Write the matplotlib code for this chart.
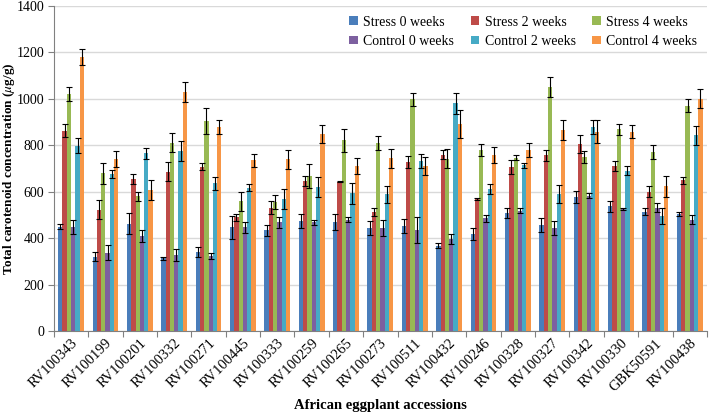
import numpy as np
import matplotlib
matplotlib.use("Agg")
from matplotlib import pyplot as plt

plt.rcParams['font.family'] = ['Liberation Serif', 'DejaVu Serif']
plt.rcParams['mathtext.fontset'] = 'stix'

# datos
accesiones = ['RV100343', 'RV100199', 'RV100201', 'RV100332', 'RV100271', 'RV100445',
              'RV100333', 'RV100259', 'RV100265', 'RV100273', 'RV100511', 'RV100432',
              'RV100246', 'RV100328', 'RV100327', 'RV100342', 'RV100330', 'GBK50591',
              'RV100438']

stress_0 = [450, 320, 463, 313, 339, 446, 433, 475, 468, 445, 453, 367, 417, 508, 458, 576, 537, 513, 504]
stress_2 = [862, 523, 655, 686, 707, 489, 531, 645, 643, 512, 727, 760, 568, 705, 756, 806, 710, 600, 649]
stress_4 = [1020, 680, 580, 811, 905, 558, 555, 668, 822, 808, 998, 742, 780, 746, 1050, 750, 868, 772, 971]
control_0 = [447, 338, 410, 327, 324, 446, 468, 468, 480, 445, 436, 396, 486, 518, 444, 583, 526, 531, 480]
control_2 = [797, 675, 765, 775, 636, 618, 568, 620, 593, 588, 732, 980, 611, 714, 590, 878, 690, 494, 842]
control_4 = [1180, 742, 607, 1029, 877, 735, 739, 849, 711, 744, 711, 892, 757, 781, 865, 859, 859, 623, 1001]

stress_0_err = [12, 20, 45, 5, 22, 48, 22, 30, 35, 30, 30, 10, 25, 20, 30, 25, 25, 15, 8]
stress_2_err = [28, 40, 22, 40, 15, 15, 27, 22, 3, 18, 25, 20, 3, 30, 25, 40, 22, 25, 15]
stress_4_err = [29, 45, 20, 42, 57, 40, 30, 52, 50, 30, 28, 40, 25, 10, 42, 25, 25, 30, 28]
control_0_err = [30, 33, 25, 25, 12, 25, 25, 10, 12, 35, 55, 20, 15, 10, 30, 10, 3, 20, 20]
control_2_err = [32, 18, 23, 42, 28, 15, 42, 45, 45, 35, 32, 45, 20, 10, 40, 30, 20, 35, 40]
control_4_err = [33, 35, 42, 42, 30, 28, 42, 38, 35, 40, 40, 60, 35, 30, 42, 50, 30, 45, 40]

nombres = ['Stress 0 weeks', 'Stress 2 weeks', 'Stress 4 weeks',
           'Control 0 weeks', 'Control 2 weeks', 'Control 4 weeks']
series = [stress_0, stress_2, stress_4, control_0, control_2, control_4]
errores = [stress_0_err, stress_2_err, stress_4_err, control_0_err, control_2_err, control_4_err]
colores = ['#4a7ebb', '#be4b48', '#98b954', '#7d60a0', '#46aac5', '#f79646']

fig = plt.figure(figsize=(7.09, 4.18), dpi=100)
ax = fig.add_axes([0.076, 0.208, 0.921, 0.778])

x = np.arange(len(accesiones))
ancho = 0.125
barras = []
for i in range(len(series)):
    pos = x - 0.3125 + i * ancho
    b = ax.bar(pos, series[i], ancho, color=colores[i], label=nombres[i], zorder=2)
    ax.errorbar(pos, series[i], yerr=errores[i], fmt='none', ecolor='black',
                elinewidth=0.8, capsize=2.3, capthick=0.8, zorder=3)
    barras.append(b)

ax.set_xlim(-0.5, len(accesiones) - 0.5)
ax.set_ylim(0, 1400)
ax.set_yticks(range(0, 1401, 200))
ax.yaxis.grid(True, color='#d9d9d9', linewidth=1, zorder=0)
ax.set_axisbelow(True)

# ticks en los bordes de cada grupo, etiquetas en el centro
ax.set_xticks(np.arange(-0.5, len(accesiones), 1))
ax.set_xticklabels([])
ax.set_xticks(x, minor=True)
ax.set_xticklabels(accesiones, minor=True, rotation=45, ha='right',
                   rotation_mode='anchor', fontsize=10.5)
ax.tick_params(axis='x', which='minor', length=0, pad=4)
ax.tick_params(axis='x', which='major', length=4, color='#808080')
ax.tick_params(axis='y', length=4, color='#808080', labelsize=10, pad=3)

for s in ['top', 'right']:
    ax.spines[s].set_visible(False)
ax.spines['left'].set_color('#808080')
ax.spines['bottom'].set_color('#808080')

ax.set_ylabel('Total carotenoid concentration ($\\mu$g/g)', fontsize=9.5,
              fontweight='bold')
ax.yaxis.set_label_coords(-0.056, 0.5)
ax.set_xlabel('African eggplant accessions', fontsize=10.5, fontweight='bold', labelpad=4)

# orden de la leyenda: fila de stress arriba, control abajo
orden = [0, 3, 1, 4, 2, 5]
ax.legend([barras[k] for k in orden], [nombres[k] for k in orden], ncol=3,
          loc='upper right', bbox_to_anchor=(1.0, 1.0), frameon=False,
          fontsize=10, handlelength=0.6, handleheight=0.6, handletextpad=0.4,
          columnspacing=1.2, labelspacing=0.45, borderaxespad=0.3)

fig.savefig('out.png', dpi=100)
